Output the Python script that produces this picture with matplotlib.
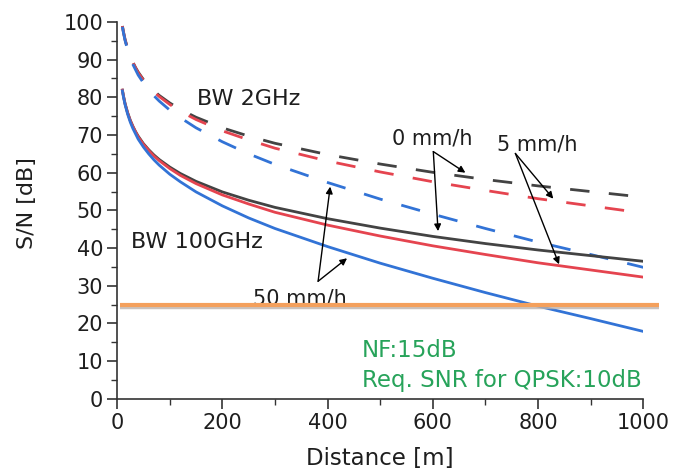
import matplotlib
matplotlib.use("Agg")
import matplotlib.pyplot as plt
from matplotlib.ticker import MultipleLocator

plt.rcParams['font.family'] = ['DejaVu Sans']

distance = [10, 12, 15, 20, 25, 30, 35, 40, 50, 60, 70, 80, 100, 120, 150, 200, 250, 300,
            400, 500, 600, 700, 800, 900, 1000]

# BW 100 GHz (solid)
snr_100g_0mm = [81.9, 80.4, 78.4, 75.9, 73.9, 72.3, 70.9, 69.7, 67.7, 66.1, 64.7, 63.5, 61.5, 59.8,
                57.7, 54.9, 52.7, 50.8, 47.8, 45.3, 43.1, 41.2, 39.5, 38.0, 36.5]
snr_100g_5mm = [81.9, 80.3, 78.3, 75.8, 73.8, 72.2, 70.8, 69.5, 67.5, 65.9, 64.4, 63.2, 61.1, 59.3,
                57.1, 54.1, 51.7, 49.5, 46.1, 43.2, 40.6, 38.3, 36.1, 34.2, 32.3]
snr_100g_50mm = [81.7, 80.1, 78.1, 75.5, 73.4, 71.7, 70.3, 68.9, 66.8, 65.0, 63.4, 62.0, 59.6, 57.6,
                 54.9, 51.2, 48.0, 45.2, 40.4, 36.0, 32.0, 28.2, 24.6, 21.3, 17.9]

# BW 2 GHz (dashed)
snr_2g_0mm = [98.9, 97.4, 95.4, 92.9, 90.9, 89.3, 87.9, 86.7, 84.7, 83.1, 81.7, 80.5, 78.5, 76.8,
              74.7, 71.9, 69.7, 67.8, 64.8, 62.3, 60.1, 58.2, 56.5, 55.0, 53.5]
snr_2g_5mm = [98.9, 97.3, 95.3, 92.8, 90.8, 89.2, 87.8, 86.5, 84.5, 82.9, 81.4, 80.2, 78.1, 76.3,
              74.1, 71.1, 68.7, 66.5, 63.1, 60.2, 57.6, 55.3, 53.1, 51.2, 49.3]
snr_2g_50mm = [98.7, 97.1, 95.1, 92.5, 90.4, 88.7, 87.3, 85.9, 83.8, 82.0, 80.4, 79.0, 76.6, 74.6,
               71.9, 68.2, 65.0, 62.2, 57.4, 53.0, 49.0, 45.2, 41.6, 38.3, 34.9]

required_snr = 25

c_black = '#434343'
c_red = '#e5444f'
c_blue = '#3273d6'
c_orange = '#f4a05c'
c_green = '#27a35a'
c_text = '#1e1e1e'

fig = plt.figure(figsize=(6.85, 4.76), dpi=100)
ax = fig.add_axes([0.171, 0.162, 0.768, 0.792])

ax.plot(distance, snr_2g_0mm, color=c_black, lw=2, dashes=(7, 7))
ax.plot(distance, snr_2g_5mm, color=c_red, lw=2, dashes=(7, 7))
ax.plot(distance, snr_2g_50mm, color=c_blue, lw=2, dashes=(7, 7))
ax.plot(distance, snr_100g_0mm, color=c_black, lw=2)
ax.plot(distance, snr_100g_5mm, color=c_red, lw=2)
ax.plot(distance, snr_100g_50mm, color=c_blue, lw=2)

ax.set_xlim(0, 1000)
ax.set_ylim(0, 100)

ax.xaxis.set_major_locator(MultipleLocator(200))
ax.xaxis.set_minor_locator(MultipleLocator(100))
ax.yaxis.set_major_locator(MultipleLocator(10))
ax.yaxis.set_minor_locator(MultipleLocator(5))

for s in ['top', 'right']:
    ax.spines[s].set_visible(False)
for s in ['left', 'bottom']:
    ax.spines[s].set_color('#333333')
    ax.spines[s].set_linewidth(1.2)

ax.tick_params(which='major', direction='out', length=7, width=1.2, color='#333333',
               labelsize=15, labelcolor=c_text, pad=3)
ax.tick_params(which='minor', direction='out', length=4, width=1.0, color='#333333')

fig.text(380 / 685, 1 - 458 / 476, 'Distance [m]', fontsize=16.5, color=c_text,
         ha='center', va='center')
fig.text(27 / 685, 1 - 203 / 476, 'S/N [dB]', fontsize=16, color=c_text,
         ha='center', va='center', rotation=90)

ax.text(250, 79.6, 'BW 2GHz', fontsize=16, color=c_text, ha='center', va='center')
ax.text(151, 41.5, 'BW 100GHz', fontsize=16, color=c_text, ha='center', va='center')

ax.text(599, 69.1, '0 mm/h', fontsize=15, color=c_text, ha='center', va='center')
ax.text(798, 67.5, '5 mm/h', fontsize=15, color=c_text, ha='center', va='center')
ax.text(348, 26.7, '50 mm/h', fontsize=15, color=c_text, ha='center', va='center', zorder=1)

arrow_kw = dict(arrowstyle='-|>', color='black', lw=1.0, mutation_scale=10, shrinkA=0, shrinkB=0)
for start, end in [((601, 65.6), (662, 60.0)), ((601, 65.6), (610, 44.5)),
                   ((757, 65.1), (829, 53.1)), ((757, 65.1), (840, 35.7)),
                   ((382, 31.2), (405, 56.3)), ((382, 31.2), (437, 37.3))]:
    ax.annotate('', xy=end, xytext=start, arrowprops=arrow_kw)

# required SNR line (with soft shadow)
ax.plot([5, 1030], [required_snr - 0.65, required_snr - 0.65], color='#bdb3ae', lw=3.2, alpha=0.8,
        clip_on=False, zorder=4, solid_capstyle='butt')
ax.plot([5, 1030], [required_snr, required_snr], color=c_orange, lw=3, clip_on=False, zorder=5,
        solid_capstyle='butt')

ax.text(465, 12.8, 'NF:15dB', fontsize=16.5, color=c_green, ha='left', va='center')
ax.text(465, 4.8, 'Req. SNR for QPSK:10dB', fontsize=16.5, color=c_green, ha='left', va='center')

fig.savefig('out.png', dpi=100)
